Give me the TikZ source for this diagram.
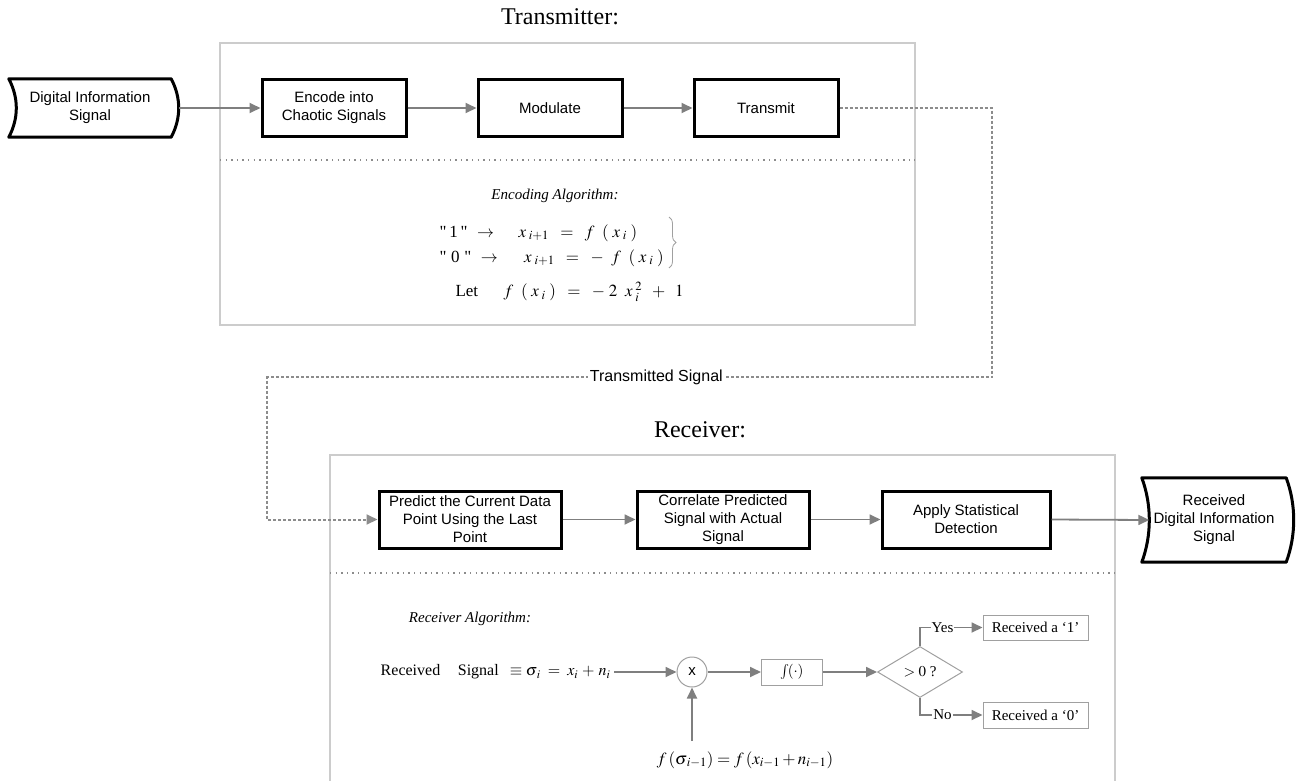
\documentclass[tikz,border=0pt]{standalone}
\usepackage{mathptmx}
\usepackage{fontspec}
\setmainfont{Liberation Serif}
\newfontfamily\arialf{Liberation Sans}
\newfontfamily\rawserif{Liberation Serif}[Ligatures=ResetAll]
\usetikzlibrary{arrows.meta,shapes.geometric,calc,decorations.pathreplacing}
\definecolor{garr}{HTML}{7F7F7F}
\definecolor{cont}{HTML}{CCCCCC}
\definecolor{thin}{HTML}{A0A0A0}
\definecolor{dotc}{HTML}{8C8C8C}
\newcommand{\sq}{{\rawserif\char34}}
\tikzset{
  proc/.style={draw=black, line width=3pt, minimum width=144pt, minimum height=57pt, align=center, font=\arialf\fontsize{15}{18}\selectfont, inner sep=2pt},
  datatext/.style={align=center, font=\arialf\fontsize{15}{18}\selectfont, inner sep=0pt},
  datashape/.style={draw=black, line width=3pt, line join=round},
  garrow/.style={draw=garr, line width=1.8pt, -{Triangle[length=11pt,width=10pt]}},
  container/.style={draw=cont, line width=1.3pt},
  sepline/.style={draw=dotc, line width=1.3pt, dash pattern=on 1.3pt off 4.3pt},
  dotconn/.style={draw=dotc, line width=2pt, dash pattern=on 3pt off 2pt},
  titletext/.style={font=\fontsize{24}{28}\selectfont},
  serif/.style={font=\fontsize{16}{19}\selectfont},
  eqn/.style={font=\fontsize{17}{20}\selectfont},
  thinbox/.style={draw=thin, line width=1pt, font=\fontsize{15}{18}\selectfont},
  lab/.style={fill=white, inner sep=1pt, font=\fontsize{15}{18}\selectfont}
}
\begin{document}
\begin{tikzpicture}[x=1pt,y=-1pt]
\useasboundingbox (0,0) rectangle (1296,780);

% ---------------- Transmitter ----------------
\node[titletext] (ttx) at (560,17) {Transmitter:};
\draw[container] (220,43) rectangle (915,325);
\draw[sepline] (220,160) -- (915,160);

\node[datatext, minimum width=162pt, minimum height=58pt] (din) at (90,108) {Digital Information\\Signal};
\draw[datashape] (din.north west) .. controls ($(din.north west)+(10,19)$) and ($(din.south west)+(10,-19)$) .. (din.south west)
  -- (din.south east) .. controls ($(din.south east)+(10,-19)$) and ($(din.north east)+(10,19)$) .. (din.north east) -- cycle;

\node[proc] (enc) at (334,108) {Encode into\\Chaotic Signals};
\node[proc] (mod) at (550,108) {Modulate};
\node[proc] (tra) at (766,108) {Transmit};

\draw[garrow] ($(din.east)+(7.5,0)$) -- (enc.west);
\draw[garrow] (enc.east) -- (mod.west);
\draw[garrow] (mod.east) -- (tra.west);

\node[font=\itshape\fontsize{15}{18}\selectfont] (encalg) at (555,196) {Encoding Algorithm:};
\node[eqn, anchor=west] (e1) at (436,233) {\sq\,1\,\sq\;\;$\rightarrow\quad\; x_{\;i+1}\;\;=\;\;f\;\;(\;x_{\;i}\;)$};
\node[eqn, anchor=west] (e2) at (436,258) {\sq\;0\;\sq\;\;$\rightarrow\quad\;\, x_{\;i+1}\;\;=\;\;-\;\;f\;\;(\;x_{\;i}\;)$};
\node[eqn, anchor=west] (let) at (452,292) {Let\quad\ \ $f\;\;(\;x_{\;i}\;)\;\;=\;\;-\;2\;\;x_{\;i}^{\;2}\;\;+\;\;1$};
\coordinate (bt) at (669,217);
\coordinate (bb) at (669,268);
\draw[decorate, decoration={brace, amplitude=7pt}, draw=thin, line width=0.8pt] (bt) -- (bb);

% ---------------- Link ----------------
\coordinate (c1) at (992,377);
\coordinate (c2) at (267,377);

% ---------------- Receiver ----------------
\node[titletext] (trx) at (700,430) {Receiver:};
\draw[container] (330,782) -- (330,455) -- (1115,455) -- (1115,782);
\draw[sepline] (330,573) -- (1115,573);

\node[proc, minimum width=182pt] (pre) at (470,519.5) {Predict the Current Data\\Point Using the Last\\Point};
\node[proc, minimum width=172pt] (cor) at (723,519.5) {Correlate Predicted\\Signal with Actual\\Signal};
\node[proc, minimum width=168pt] (app) at (966,519.5) {Apply Statistical\\Detection};

\node[datatext, minimum width=144pt, minimum height=84pt] (dout) at (1214,520) {Received\\Digital Information\\Signal};
\draw[datashape] (dout.north west) .. controls ($(dout.north west)+(10,27)$) and ($(dout.south west)+(10,-27)$) .. (dout.south west)
  -- (dout.south east) .. controls ($(dout.south east)+(10,-27)$) and ($(dout.north east)+(10,27)$) .. (dout.north east) -- cycle;

\draw[garrow] (pre.east) -- (cor.west);
\draw[garrow] (cor.east) -- (app.west);
\draw[garrow] (app.east) -- ($(dout.west)+(7.5,0)$);

\draw[dotconn, -{Triangle[length=11pt,width=10pt]}] (tra.east) -| (c1)
  -- node[pos=0.463, fill=white, inner sep=2pt, font=\arialf\fontsize{16}{19}\selectfont] (tslab) {Transmitted Signal} (c2)
  |- (pre.west);

% ---------------- Receiver algorithm ----------------
\node[font=\itshape\fontsize{15}{18}\selectfont] (recalg) at (470,619) {Receiver Algorithm:};
\node[serif, anchor=east] (rs) at (614,672) {Received\hspace{1.1em}Signal\hspace{0.7em}$\equiv\sigma_{\,i}\;=\;x_{i}\,+\,n_{i}$};
\node[circle, draw=thin, line width=1pt, minimum size=30pt, inner sep=0pt, font=\arialf\fontsize{15}{18}\selectfont] (mult) at (692,672) {x};
\node[thinbox, minimum width=61pt, minimum height=26pt, inner sep=0pt] (int) at (792,672) {$\textstyle\int\!(\cdot)$};
\node[diamond, draw=thin, line width=1pt, minimum width=85pt, minimum height=51pt, inner sep=0pt, aspect=1.67, font=\fontsize{15}{18}\selectfont] (dec) at (920,672) {$>0$ ?};
\node[thinbox, minimum width=105pt, minimum height=25pt, inner sep=0pt] (yes) at (1035.5,627.5) {Received a `1'};
\node[thinbox, minimum width=105pt, minimum height=26pt, inner sep=0pt] (no) at (1035.5,715) {Received a `0'};

\draw[garrow] (rs.east) -- (mult.west);
\draw[garrow] (mult.east) -- (int.west);
\draw[garrow] (int.east) -- (dec.west);
\draw[garrow] (dec.north) |- node[pos=0.68, lab] (ylab) {Yes} (yes.west);
\draw[garrow] (dec.south) |- node[pos=0.68, lab] (nlab) {No} (no.west);

\coordinate (fin) at (692,741);
\draw[garrow] (fin) -- (mult.south);
\node[font=\fontsize{17}{20}\selectfont] (flab) at (745,760) {$f\,(\sigma_{\,i-1}) = f\,(x_{i-1}+n_{i-1})$};
\end{tikzpicture}
\end{document}
